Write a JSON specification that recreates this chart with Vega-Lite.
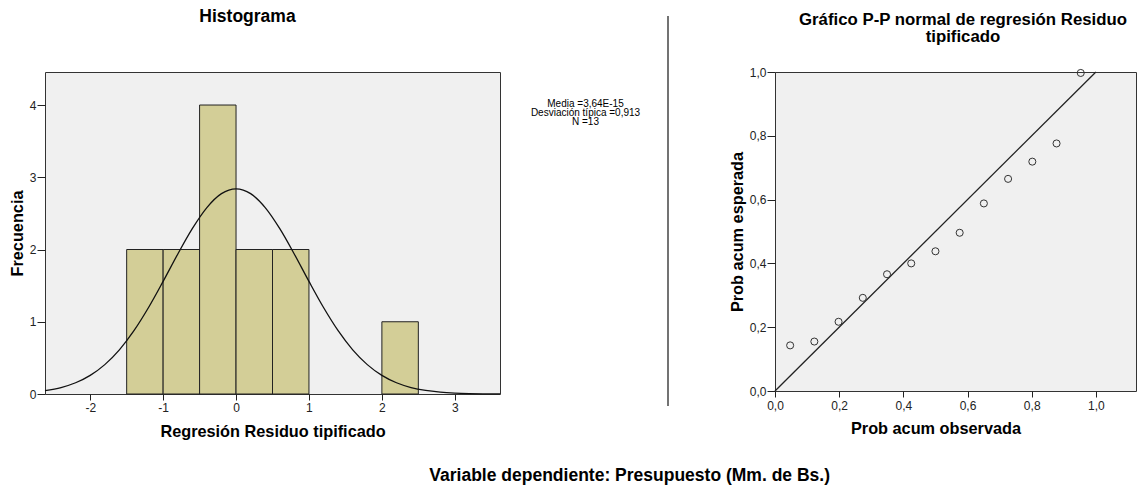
{
  "$schema": "https://vega.github.io/schema/vega-lite/v6.json",
  "background": "white",
  "padding": {"left": 8, "top": 7, "right": 5, "bottom": 0},
  "spacing": 0,
  "config": {
    "font": "Liberation Sans",
    "view": {"fill": "#f0f0f0", "stroke": "#333333", "strokeWidth": 1},
    "axis": {"grid": false, "domain": false, "tickColor": "#222222", "tickSize": 8, "labelPadding": 1, "labelFontSize": 12, "labelColor": "#222222", "labelFont": "Liberation Sans", "titleFont": "Liberation Sans", "titleFontSize": 16.3, "titleFontWeight": "bold", "titleColor": "#000000", "titlePadding": 4, "labelFlush": false, "labelOverlap": false},
    "title": {"fontSize": 17.5, "fontWeight": "bold", "color": "#000000", "font": "Liberation Sans"},
    "concat": {"spacing": 0}
  },
  "title": {"text": "Variable dependiente: Presupuesto (Mm. de Bs.)", "orient": "bottom", "anchor": "middle", "offset": 27, "dx": 57},
  "datasets": {
    "hist": [
      {"bin_start": -1.5, "bin_end": -1.0, "count": 2},
      {"bin_start": -1.0, "bin_end": -0.5, "count": 2},
      {"bin_start": -0.5, "bin_end": 0.0, "count": 4},
      {"bin_start": 0.0, "bin_end": 0.5, "count": 2},
      {"bin_start": 0.5, "bin_end": 1.0, "count": 2},
      {"bin_start": 2.0, "bin_end": 2.5, "count": 1}
    ],
    "curve": [
      {"x": -2.62, "y": 0.0463},
      {"x": -2.4, "y": 0.0897},
      {"x": -2.2, "y": 0.1557},
      {"x": -2.0, "y": 0.2578},
      {"x": -1.8, "y": 0.4067},
      {"x": -1.6, "y": 0.6115},
      {"x": -1.4, "y": 0.8765},
      {"x": -1.2, "y": 1.197},
      {"x": -1.0, "y": 1.559},
      {"x": -0.8, "y": 1.935},
      {"x": -0.6, "y": 2.288},
      {"x": -0.4, "y": 2.580},
      {"x": -0.2, "y": 2.773},
      {"x": 0.0, "y": 2.840},
      {"x": 0.2, "y": 2.773},
      {"x": 0.4, "y": 2.580},
      {"x": 0.6, "y": 2.288},
      {"x": 0.8, "y": 1.935},
      {"x": 1.0, "y": 1.559},
      {"x": 1.2, "y": 1.197},
      {"x": 1.4, "y": 0.8765},
      {"x": 1.6, "y": 0.6115},
      {"x": 1.8, "y": 0.4067},
      {"x": 2.0, "y": 0.2578},
      {"x": 2.2, "y": 0.1557},
      {"x": 2.4, "y": 0.0897},
      {"x": 2.6, "y": 0.0492},
      {"x": 2.8, "y": 0.0258},
      {"x": 3.0, "y": 0.0128},
      {"x": 3.2, "y": 0.0061},
      {"x": 3.4, "y": 0.0028},
      {"x": 3.62, "y": 0.0011}
    ],
    "stats": [
      {"label": "Media =3,64E-15\nDesviación típica =0,913\nN =13"}
    ],
    "diag": [
      {"obs": 0, "exp": 0},
      {"obs": 1, "exp": 1}
    ],
    "pp": [
      {"obs": 0.0472, "exp": 0.143},
      {"obs": 0.1226, "exp": 0.155},
      {"obs": 0.1981, "exp": 0.217},
      {"obs": 0.2736, "exp": 0.292},
      {"obs": 0.3491, "exp": 0.366},
      {"obs": 0.4245, "exp": 0.400},
      {"obs": 0.5000, "exp": 0.438},
      {"obs": 0.5755, "exp": 0.496},
      {"obs": 0.6509, "exp": 0.588},
      {"obs": 0.7264, "exp": 0.665},
      {"obs": 0.8019, "exp": 0.719},
      {"obs": 0.8774, "exp": 0.776},
      {"obs": 0.9528, "exp": 0.997}
    ]
  },
  "hconcat": [
    {
      "width": 455,
      "height": 322,
      "title": {"text": "Histograma", "offset": 46.5, "dx": -25, "anchor": "middle"},
      "layer": [
        {
          "data": {"name": "hist"},
          "mark": {"type": "bar", "fill": "#d3ce97", "stroke": "#222222", "strokeWidth": 1, "orient": "vertical"},
          "encoding": {
            "x": {"field": "bin_start", "type": "quantitative", "scale": {"domain": [-2.62, 3.62], "nice": false, "zero": false, "padding": 0}, "axis": {"values": [-2, -1, 0, 1, 2, 3], "title": "Regresión Residuo tipificado", "tickSize": 6, "labelPadding": 2, "titlePadding": 10, "labelExpr": "replace(format(datum.value, 'd'), '\u2212', '-')"}},
            "x2": {"field": "bin_end"},
            "y": {"field": "count", "type": "quantitative", "scale": {"domain": [0, 4.457], "nice": false, "padding": 0}, "axis": {"values": [0, 1, 2, 3, 4], "title": "Frecuencia", "format": "d"}},
            "y2": {"datum": 0}
          }
        },
        {
          "data": {"name": "curve"},
          "mark": {"type": "line", "color": "#111111", "strokeWidth": 1.3, "interpolate": "monotone"},
          "encoding": {
            "x": {"field": "x", "type": "quantitative"},
            "y": {"field": "y", "type": "quantitative"}
          }
        }
      ]
    },
    {
      "width": 163,
      "height": 64,
      "view": {"fill": null, "stroke": null},
      "data": {"name": "stats"},
      "mark": {"type": "text", "fontSize": 10, "lineBreak": "\n", "lineHeight": 9, "align": "center", "baseline": "middle", "color": "#000000"},
      "encoding": {"text": {"field": "label"}}
    },
    {
      "width": 60,
      "height": 334,
      "view": {"fill": null, "stroke": null},
      "data": {"values": [{}]},
      "mark": {"type": "rule", "color": "#444444", "strokeWidth": 1.5},
      "encoding": {
        "x": {"datum": 0, "type": "quantitative", "scale": {"domain": [0, 1], "padding": 0}, "axis": null},
        "y": {"datum": 0, "type": "quantitative", "scale": {"domain": [0, 1], "padding": 0}, "axis": null},
        "y2": {"datum": 1.1677}
      }
    },
    {
      "width": 361,
      "height": 319,
      "title": {"text": ["Gráfico P-P normal de regresión Residuo", "tipificado"], "offset": 20, "dx": 7.5, "lineHeight": 17, "fontSize": 16.8, "anchor": "middle"},
      "layer": [
        {
          "data": {"name": "diag"},
          "mark": {"type": "line", "color": "#222222", "strokeWidth": 1.3},
          "encoding": {
            "x": {"field": "obs", "type": "quantitative", "scale": {"domain": [0, 1.125], "nice": false, "zero": false}, "axis": {"values": [0, 0.2, 0.4, 0.6, 0.8, 1.0], "title": "Prob acum observada", "titleX": 160.5, "tickSize": 6, "labelPadding": 3, "titlePadding": 9, "labelExpr": "replace(format(datum.value, '.1f'), '.', ',')"}},
            "y": {"field": "exp", "type": "quantitative", "scale": {"domain": [0, 1], "nice": false}, "axis": {"values": [0, 0.2, 0.4, 0.6, 0.8, 1.0], "title": "Prob acum esperada", "labelExpr": "replace(format(datum.value, '.1f'), '.', ',')"}}
          }
        },
        {
          "data": {"name": "pp"},
          "mark": {"type": "point", "shape": "circle", "filled": false, "size": 50, "stroke": "#333333", "strokeWidth": 1, "opacity": 1},
          "encoding": {
            "x": {"field": "obs", "type": "quantitative"},
            "y": {"field": "exp", "type": "quantitative"}
          }
        }
      ]
    }
  ]
}
